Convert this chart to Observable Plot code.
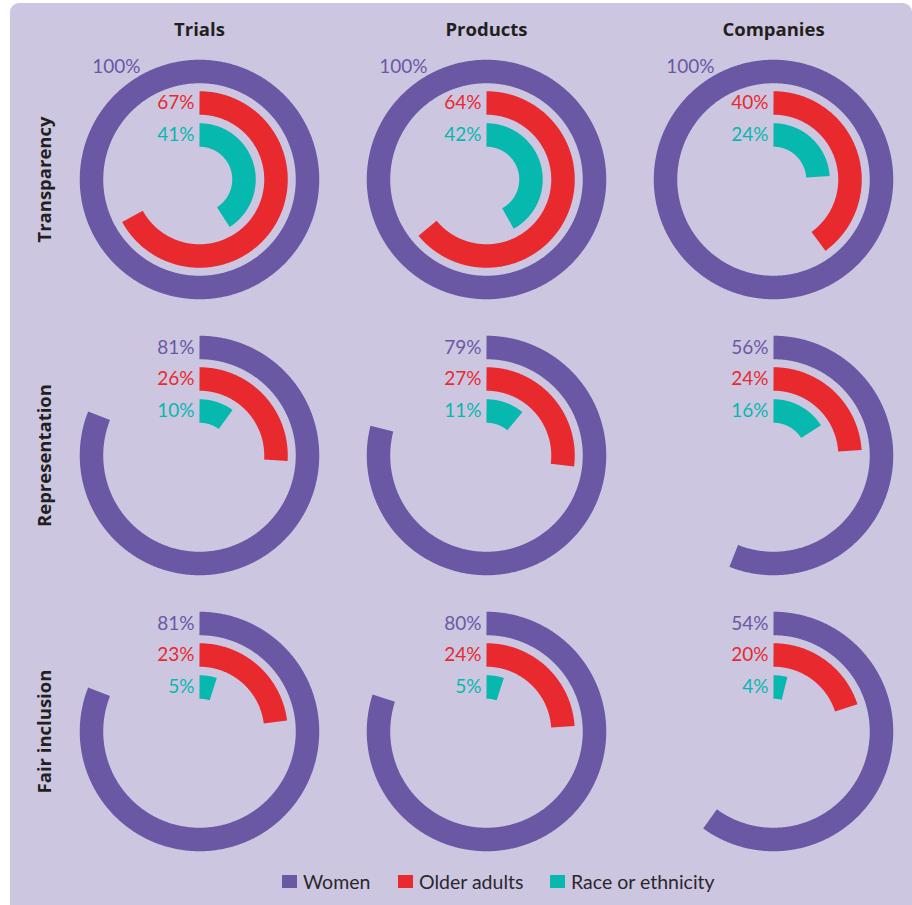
<!DOCTYPE html>
<html>
<head>
<meta charset="utf-8">
<script src="https://cdn.jsdelivr.net/npm/d3@7"></script>
<script src="https://cdn.jsdelivr.net/npm/@observablehq/plot@0.6"></script>
<style>
  html, body { margin: 0; padding: 0; background: #ffffff; }
  body { width: 912px; height: 905px; position: relative; overflow: hidden; font-family: Lato, "Open Sans", sans-serif; }
  #panel { position: absolute; left: 10px; top: 3px; width: 902px; height: 902px; background: #cdc6e1; border-radius: 9px 9px 0 0; }
  #wrap { position: absolute; left: 0; top: 0; width: 912px; }
  #legend { position: relative; height: 30px; font-family: Lato, sans-serif; font-size: 19.5px; color: #2a282d; }
  .item { position: absolute; top: 4px; display: flex; align-items: center; height: 22px; }
  .sw { width: 15px; height: 13px; margin-right: 6px; }
</style>
</head>
<body>
<div id="panel"></div>
<div id="wrap"></div>
<script>
// ---- data ----
const columns = ["Trials", "Products", "Companies"];
const rows = ["Transparency", "Representation", "Fair inclusion"];
const groups = ["Women", "Older adults", "Race or ethnicity"];
const colors = ["#6a58a5", "#e8292e", "#07b8af"];
// labelled values in %, rows x columns
const women = [[100, 100, 100], [81, 79, 56], [81, 80, 54]];
const olderAdults = [[67, 64, 40], [26, 27, 24], [23, 24, 20]];
const raceEthnicity = [[41, 42, 24], [10, 11, 16], [5, 5, 4]];
// arc lengths as drawn in the source picture (%); the Companies / Fair inclusion
// women arc is drawn longer (~60%) than its 54% label
const womenArcDrawn = [[100, 100, 100], [81, 79, 56], [81, 80, 60]];

// ---- build tables ----
const series = [women, olderAdults, raceEthnicity];
const arcSeries = [womenArcDrawn, olderAdults, raceEthnicity];
const ringRadius = [108, 76.5, 44.5];
const records = [];
rows.forEach((row, i) => columns.forEach((col, j) => groups.forEach((g, k) => {
  records.push({row, col, group: g, k, v: series[k][i][j], arc: arcSeries[k][i][j]});
})));

// sample each arc (starting at 12 o'clock, clockwise) in the x/y data space
const arcPts = [];
records.forEach((d, idx) => {
  const r = ringRadius[d.k];
  const full = d.arc >= 100;
  const end = d.arc / 100 * 2 * Math.PI;
  const n = Math.max(2, Math.ceil(d.arc * 3.6 * 2));
  const last = full ? n - 1 : n;
  for (let s = 0; s <= last; s++) {
    const a = full ? (s / n) * 2 * Math.PI : (s / n) * end;
    arcPts.push({key: idx, row: d.row, col: d.col, group: d.group, full,
                 x: r * Math.sin(a), y: r * Math.cos(a)});
  }
});

const labelX = d => d.v >= 100 ? -54 : 0;
const labelY = d => d.v >= 100 ? 113 : ringRadius[d.k];

const chart = Plot.plot({
  width: 912,
  height: 866,
  marginLeft: 68,
  marginRight: 9,
  marginTop: 48,
  marginBottom: 5,
  style: {fontFamily: "Lato, sans-serif", background: "transparent", overflow: "visible"},
  x: {domain: [-130, 130], axis: null},
  y: {domain: [-130, 130], axis: null},
  fx: {domain: columns, paddingInner: 0.0957, paddingOuter: 0, axis: null},
  fy: {domain: rows, paddingInner: 0.0597, paddingOuter: 0, axis: null},
  color: {domain: groups, range: colors},
  marks: [
    Plot.line(arcPts.filter(d => !d.full), {
      x: "x", y: "y", z: "key", stroke: "group", fx: "col", fy: "row",
      strokeWidth: 23.5, strokeLinecap: "butt", strokeLinejoin: "round"
    }),
    Plot.line(arcPts.filter(d => d.full), {
      x: "x", y: "y", z: "key", stroke: "group", fx: "col", fy: "row",
      strokeWidth: 23.5, curve: "linear-closed", strokeLinejoin: "round"
    }),
    Plot.text(records, {
      x: labelX, y: labelY, fx: "col", fy: "row",
      text: d => d.v + "%", fill: "group",
      textAnchor: "end", lineAnchor: "middle", dx: -5, fontSize: 19
    }),
    Plot.text(columns, {
      fx: d => d, fy: () => rows[0], frameAnchor: "top", text: d => d,
      lineAnchor: "middle", textAnchor: "middle", dy: -19,
      fontFamily: "Open Sans", fontWeight: "bold", fontSize: 18.5, fill: "#231f20"
    }),
    Plot.text(rows, {
      fy: d => d, fx: () => columns[0], frameAnchor: "left", text: d => d,
      rotate: -90, lineAnchor: "middle", textAnchor: "middle", dx: -24,
      fontFamily: "Open Sans", fontWeight: "bold", fontSize: 18.5, fill: "#231f20"
    })
  ]
});

const wrap = document.getElementById("wrap");
wrap.appendChild(chart);

// legend
const legend = document.createElement("div");
legend.id = "legend";
const legendLeft = [282, 398, 550];
groups.forEach((g, k) => {
  const it = document.createElement("div");
  it.className = "item";
  it.style.left = legendLeft[k] + "px";
  const sw = document.createElement("span");
  sw.className = "sw";
  sw.style.background = colors[k];
  const tx = document.createElement("span");
  tx.textContent = g;
  it.appendChild(sw);
  it.appendChild(tx);
  legend.appendChild(it);
});
wrap.appendChild(legend);
</script>
</body>
</html>
